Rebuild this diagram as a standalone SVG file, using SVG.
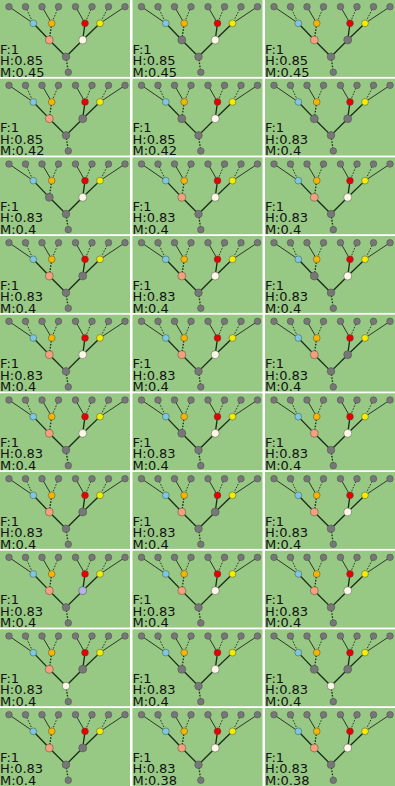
<svg xmlns="http://www.w3.org/2000/svg" xmlns:xlink="http://www.w3.org/1999/xlink" width="395" height="786" viewBox="0 0 395 786">
<style>
.bg{fill:#97c984}
.n{stroke:#4a4a4a;stroke-width:0.5}
.g{fill:#777}
.s{fill:#f4a07c}
.w{fill:#fdf8e6}
.l{fill:#b4b4e8}
.c{fill:#7cc8e0}
.o{fill:#f5b400}
.r{fill:#e80000}
.y{fill:#f2ee00}
.e{stroke:#111;stroke-width:0.8;fill:none}
.d{stroke-dasharray:1.6 1.4}
.t{stroke:#1a2a18;stroke-width:1.3}
text{font-family:"DejaVu Sans",sans-serif;font-size:13px;fill:#111}
</style>
<defs>
<g id="tree">
 <g id="connectors">
  <line class="e" x1="9" y1="6.7" x2="33.3" y2="23.3"/>
  <line class="e d" x1="25.5" y1="6.7" x2="33.3" y2="23.3"/>
  <line class="e" x1="42" y1="6.7" x2="51.7" y2="23.3"/>
  <line class="e d" x1="58.5" y1="6.7" x2="51.7" y2="23.3"/>
  <line class="e" x1="75.5" y1="6.7" x2="85" y2="23.3"/>
  <line class="e d" x1="92" y1="6.7" x2="85" y2="23.3"/>
  <line class="e d" x1="108.5" y1="6.7" x2="100" y2="23.3"/>
  <line class="e" x1="125" y1="6.7" x2="100" y2="23.3"/>
  <line class="e t" x1="33.3" y1="23.3" x2="49.3" y2="40"/>
  <line class="e t d" x1="51.7" y1="23.3" x2="49.3" y2="40"/>
  <line class="e t" x1="85" y1="23.3" x2="82.7" y2="40"/>
  <line class="e t" x1="100" y1="23.3" x2="82.7" y2="40"/>
  <line class="e t" x1="49.3" y1="40" x2="66" y2="56.7"/>
  <line class="e t" x1="82.7" y1="40" x2="66" y2="56.7"/>
  <line class="e t d" x1="66" y1="56.7" x2="68.3" y2="72.3"/>
 </g>
 <g id="leaves">
  <circle class="n g" cx="9" cy="6.7" r="3.3"/>
  <circle class="n g" cx="25.5" cy="6.7" r="3.3"/>
  <circle class="n g" cx="42" cy="6.7" r="3.3"/>
  <circle class="n g" cx="58.5" cy="6.7" r="3.3"/>
  <circle class="n g" cx="75.5" cy="6.7" r="3.3"/>
  <circle class="n g" cx="92" cy="6.7" r="3.3"/>
  <circle class="n g" cx="108.5" cy="6.7" r="3.3"/>
  <circle class="n g" cx="125" cy="6.7" r="3.3"/>
 </g>
 <g id="mid">
  <circle class="n c" cx="33.3" cy="23.3" r="3.4"/>
  <circle class="n o" cx="51.7" cy="23.3" r="3.4"/>
  <circle class="n r" cx="85" cy="23.3" r="3.4"/>
  <circle class="n y" cx="100" cy="23.3" r="3.4"/>
 </g>
 <g id="bottom"><circle class="n g" cx="68.3" cy="72.3" r="3.3"/></g>
</g>
<g id="lab85"><text x="0" y="53.5">F:1</text><text x="0" y="65">H:0.85</text></g>
<g id="lab83"><text x="0" y="53.5">F:1</text><text x="0" y="65">H:0.83</text></g>
</defs>

<g id="p0_0" transform="translate(0,0)"><rect class="bg" width="130" height="76.9"/><use xlink:href="#tree"/>
<g id="p0_0_a"><circle class="n s" cx="49.3" cy="40" r="4"/></g><g id="p0_0_b"><circle class="n w" cx="82.7" cy="40" r="4"/></g><g id="p0_0_c"><circle class="n g" cx="66" cy="56.7" r="3.8"/></g>
<use xlink:href="#lab85"/><text x="0" y="76.5">M:0.45</text></g>
<g id="p0_1" transform="translate(132.5,0)"><rect class="bg" width="130" height="76.9"/><use xlink:href="#tree"/>
<g id="p0_1_a"><circle class="n g" cx="49.3" cy="40" r="4"/></g><g id="p0_1_b"><circle class="n w" cx="82.7" cy="40" r="4"/></g><g id="p0_1_c"><circle class="n g" cx="66" cy="56.7" r="3.8"/></g>
<use xlink:href="#lab85"/><text x="0" y="76.5">M:0.45</text></g>
<g id="p0_2" transform="translate(265,0)"><rect class="bg" width="130" height="76.9"/><use xlink:href="#tree"/>
<g id="p0_2_a"><circle class="n s" cx="49.3" cy="40" r="4"/></g><g id="p0_2_b"><circle class="n g" cx="82.7" cy="40" r="4"/></g><g id="p0_2_c"><circle class="n g" cx="66" cy="56.7" r="3.8"/></g>
<use xlink:href="#lab85"/><text x="0" y="76.5">M:0.45</text></g>

<g id="p1_0" transform="translate(0,78.67)"><rect class="bg" width="130" height="76.9"/><use xlink:href="#tree"/>
<g id="p1_0_a"><circle class="n s" cx="49.3" cy="40" r="4"/></g><g id="p1_0_b"><circle class="n g" cx="82.7" cy="40" r="4"/></g><g id="p1_0_c"><circle class="n g" cx="66" cy="56.7" r="3.8"/></g>
<use xlink:href="#lab85"/><text x="0" y="76.5">M:0.42</text></g>
<g id="p1_1" transform="translate(132.5,78.67)"><rect class="bg" width="130" height="76.9"/><use xlink:href="#tree"/>
<g id="p1_1_a"><circle class="n g" cx="49.3" cy="40" r="4"/></g><g id="p1_1_b"><circle class="n w" cx="82.7" cy="40" r="4"/></g><g id="p1_1_c"><circle class="n g" cx="66" cy="56.7" r="3.8"/></g>
<use xlink:href="#lab85"/><text x="0" y="76.5">M:0.42</text></g>
<g id="p1_2" transform="translate(265,78.67)"><rect class="bg" width="130" height="76.9"/><use xlink:href="#tree"/>
<g id="p1_2_a"><circle class="n g" cx="49.3" cy="40" r="4"/></g><g id="p1_2_b"><circle class="n g" cx="82.7" cy="40" r="4"/></g><g id="p1_2_c"><circle class="n g" cx="66" cy="56.7" r="3.8"/></g>
<use xlink:href="#lab83"/><text x="0" y="76.5">M:0.4</text></g>

<g id="p2_0" transform="translate(0,157.33)"><rect class="bg" width="130" height="76.9"/><use xlink:href="#tree"/>
<g id="p2_0_a"><circle class="n g" cx="49.3" cy="40" r="4"/></g><g id="p2_0_b"><circle class="n w" cx="82.7" cy="40" r="4"/></g><g id="p2_0_c"><circle class="n g" cx="66" cy="56.7" r="3.8"/></g>
<use xlink:href="#lab83"/><text x="0" y="76.5">M:0.4</text></g>
<g id="p2_1" transform="translate(132.5,157.33)"><rect class="bg" width="130" height="76.9"/><use xlink:href="#tree"/>
<g id="p2_1_a"><circle class="n s" cx="49.3" cy="40" r="4"/></g><g id="p2_1_b"><circle class="n w" cx="82.7" cy="40" r="4"/></g><g id="p2_1_c"><circle class="n g" cx="66" cy="56.7" r="3.8"/></g>
<use xlink:href="#lab83"/><text x="0" y="76.5">M:0.4</text></g>
<g id="p2_2" transform="translate(265,157.33)"><rect class="bg" width="130" height="76.9"/><use xlink:href="#tree"/>
<g id="p2_2_a"><circle class="n s" cx="49.3" cy="40" r="4"/></g><g id="p2_2_b"><circle class="n w" cx="82.7" cy="40" r="4"/></g><g id="p2_2_c"><circle class="n g" cx="66" cy="56.7" r="3.8"/></g>
<use xlink:href="#lab83"/><text x="0" y="76.5">M:0.4</text></g>

<g id="p3_0" transform="translate(0,236)"><rect class="bg" width="130" height="76.9"/><use xlink:href="#tree"/>
<g id="p3_0_a"><circle class="n s" cx="49.3" cy="40" r="4"/></g><g id="p3_0_b"><circle class="n g" cx="82.7" cy="40" r="4"/></g><g id="p3_0_c"><circle class="n g" cx="66" cy="56.7" r="3.8"/></g>
<use xlink:href="#lab83"/><text x="0" y="76.5">M:0.4</text></g>
<g id="p3_1" transform="translate(132.5,236)"><rect class="bg" width="130" height="76.9"/><use xlink:href="#tree"/>
<g id="p3_1_a"><circle class="n s" cx="49.3" cy="40" r="4"/></g><g id="p3_1_b"><circle class="n w" cx="82.7" cy="40" r="4"/></g><g id="p3_1_c"><circle class="n g" cx="66" cy="56.7" r="3.8"/></g>
<use xlink:href="#lab83"/><text x="0" y="76.5">M:0.4</text></g>
<g id="p3_2" transform="translate(265,236)"><rect class="bg" width="130" height="76.9"/><use xlink:href="#tree"/>
<g id="p3_2_a"><circle class="n g" cx="49.3" cy="40" r="4"/></g><g id="p3_2_b"><circle class="n w" cx="82.7" cy="40" r="4"/></g><g id="p3_2_c"><circle class="n g" cx="66" cy="56.7" r="3.8"/></g>
<use xlink:href="#lab83"/><text x="0" y="76.5">M:0.4</text></g>

<g id="p4_0" transform="translate(0,314.67)"><rect class="bg" width="130" height="76.9"/><use xlink:href="#tree"/>
<g id="p4_0_a"><circle class="n s" cx="49.3" cy="40" r="4"/></g><g id="p4_0_b"><circle class="n w" cx="82.7" cy="40" r="4"/></g><g id="p4_0_c"><circle class="n g" cx="66" cy="56.7" r="3.8"/></g>
<use xlink:href="#lab83"/><text x="0" y="76.5">M:0.4</text></g>
<g id="p4_1" transform="translate(132.5,314.67)"><rect class="bg" width="130" height="76.9"/><use xlink:href="#tree"/>
<g id="p4_1_a"><circle class="n s" cx="49.3" cy="40" r="4"/></g><g id="p4_1_b"><circle class="n w" cx="82.7" cy="40" r="4"/></g><g id="p4_1_c"><circle class="n g" cx="66" cy="56.7" r="3.8"/></g>
<use xlink:href="#lab83"/><text x="0" y="76.5">M:0.4</text></g>
<g id="p4_2" transform="translate(265,314.67)"><rect class="bg" width="130" height="76.9"/><use xlink:href="#tree"/>
<g id="p4_2_a"><circle class="n s" cx="49.3" cy="40" r="4"/></g><g id="p4_2_b"><circle class="n g" cx="82.7" cy="40" r="4"/></g><g id="p4_2_c"><circle class="n g" cx="66" cy="56.7" r="3.8"/></g>
<use xlink:href="#lab83"/><text x="0" y="76.5">M:0.4</text></g>

<g id="p5_0" transform="translate(0,393.33)"><rect class="bg" width="130" height="76.9"/><use xlink:href="#tree"/>
<g id="p5_0_a"><circle class="n s" cx="49.3" cy="40" r="4"/></g><g id="p5_0_b"><circle class="n w" cx="82.7" cy="40" r="4"/></g><g id="p5_0_c"><circle class="n g" cx="66" cy="56.7" r="3.8"/></g>
<use xlink:href="#lab83"/><text x="0" y="76.5">M:0.4</text></g>
<g id="p5_1" transform="translate(132.5,393.33)"><rect class="bg" width="130" height="76.9"/><use xlink:href="#tree"/>
<g id="p5_1_a"><circle class="n g" cx="49.3" cy="40" r="4"/></g><g id="p5_1_b"><circle class="n w" cx="82.7" cy="40" r="4"/></g><g id="p5_1_c"><circle class="n g" cx="66" cy="56.7" r="3.8"/></g>
<use xlink:href="#lab83"/><text x="0" y="76.5">M:0.4</text></g>
<g id="p5_2" transform="translate(265,393.33)"><rect class="bg" width="130" height="76.9"/><use xlink:href="#tree"/>
<g id="p5_2_a"><circle class="n s" cx="49.3" cy="40" r="4"/></g><g id="p5_2_b"><circle class="n w" cx="82.7" cy="40" r="4"/></g><g id="p5_2_c"><circle class="n g" cx="66" cy="56.7" r="3.8"/></g>
<use xlink:href="#lab83"/><text x="0" y="76.5">M:0.4</text></g>

<g id="p6_0" transform="translate(0,472)"><rect class="bg" width="130" height="76.9"/><use xlink:href="#tree"/>
<g id="p6_0_a"><circle class="n s" cx="49.3" cy="40" r="4"/></g><g id="p6_0_b"><circle class="n g" cx="82.7" cy="40" r="4"/></g><g id="p6_0_c"><circle class="n g" cx="66" cy="56.7" r="3.8"/></g>
<use xlink:href="#lab83"/><text x="0" y="76.5">M:0.4</text></g>
<g id="p6_1" transform="translate(132.5,472)"><rect class="bg" width="130" height="76.9"/><use xlink:href="#tree"/>
<g id="p6_1_a"><circle class="n s" cx="49.3" cy="40" r="4"/></g><g id="p6_1_b"><circle class="n g" cx="82.7" cy="40" r="4"/></g><g id="p6_1_c"><circle class="n g" cx="66" cy="56.7" r="3.8"/></g>
<use xlink:href="#lab83"/><text x="0" y="76.5">M:0.4</text></g>
<g id="p6_2" transform="translate(265,472)"><rect class="bg" width="130" height="76.9"/><use xlink:href="#tree"/>
<g id="p6_2_a"><circle class="n s" cx="49.3" cy="40" r="4"/></g><g id="p6_2_b"><circle class="n w" cx="82.7" cy="40" r="4"/></g><g id="p6_2_c"><circle class="n g" cx="66" cy="56.7" r="3.8"/></g>
<use xlink:href="#lab83"/><text x="0" y="76.5">M:0.4</text></g>

<g id="p7_0" transform="translate(0,550.67)"><rect class="bg" width="130" height="76.9"/><use xlink:href="#tree"/>
<g id="p7_0_a"><circle class="n s" cx="49.3" cy="40" r="4"/></g><g id="p7_0_b"><circle class="n l" cx="82.7" cy="40" r="4"/></g><g id="p7_0_c"><circle class="n g" cx="66" cy="56.7" r="3.8"/></g>
<use xlink:href="#lab83"/><text x="0" y="76.5">M:0.4</text></g>
<g id="p7_1" transform="translate(132.5,550.67)"><rect class="bg" width="130" height="76.9"/><use xlink:href="#tree"/>
<g id="p7_1_a"><circle class="n s" cx="49.3" cy="40" r="4"/></g><g id="p7_1_b"><circle class="n w" cx="82.7" cy="40" r="4"/></g><g id="p7_1_c"><circle class="n g" cx="66" cy="56.7" r="3.8"/></g>
<use xlink:href="#lab83"/><text x="0" y="76.5">M:0.4</text></g>
<g id="p7_2" transform="translate(265,550.67)"><rect class="bg" width="130" height="76.9"/><use xlink:href="#tree"/>
<g id="p7_2_a"><circle class="n s" cx="49.3" cy="40" r="4"/></g><g id="p7_2_b"><circle class="n w" cx="82.7" cy="40" r="4"/></g><g id="p7_2_c"><circle class="n g" cx="66" cy="56.7" r="3.8"/></g>
<use xlink:href="#lab83"/><text x="0" y="76.5">M:0.4</text></g>

<g id="p8_0" transform="translate(0,629.33)"><rect class="bg" width="130" height="76.9"/><use xlink:href="#tree"/>
<g id="p8_0_a"><circle class="n s" cx="49.3" cy="40" r="4"/></g><g id="p8_0_b"><circle class="n g" cx="82.7" cy="40" r="4"/></g><g id="p8_0_c"><circle class="n w" cx="66" cy="56.7" r="3.8"/></g>
<use xlink:href="#lab83"/><text x="0" y="76.5">M:0.4</text></g>
<g id="p8_1" transform="translate(132.5,629.33)"><rect class="bg" width="130" height="76.9"/><use xlink:href="#tree"/>
<g id="p8_1_a"><circle class="n g" cx="49.3" cy="40" r="4"/></g><g id="p8_1_b"><circle class="n w" cx="82.7" cy="40" r="4"/></g><g id="p8_1_c"><circle class="n g" cx="66" cy="56.7" r="3.8"/></g>
<use xlink:href="#lab83"/><text x="0" y="76.5">M:0.4</text></g>
<g id="p8_2" transform="translate(265,629.33)"><rect class="bg" width="130" height="76.9"/><use xlink:href="#tree"/>
<g id="p8_2_a"><circle class="n g" cx="49.3" cy="40" r="4"/></g><g id="p8_2_b"><circle class="n g" cx="82.7" cy="40" r="4"/></g><g id="p8_2_c"><circle class="n w" cx="66" cy="56.7" r="3.8"/></g>
<use xlink:href="#lab83"/><text x="0" y="76.5">M:0.4</text></g>

<g id="p9_0" transform="translate(0,708)"><rect class="bg" width="130" height="78"/><use xlink:href="#tree"/>
<g id="p9_0_a"><circle class="n s" cx="49.3" cy="40" r="4"/></g><g id="p9_0_b"><circle class="n g" cx="82.7" cy="40" r="4"/></g><g id="p9_0_c"><circle class="n g" cx="66" cy="56.7" r="3.8"/></g>
<use xlink:href="#lab83"/><text x="0" y="76.5">M:0.4</text></g>
<g id="p9_1" transform="translate(132.5,708)"><rect class="bg" width="130" height="78"/><use xlink:href="#tree"/>
<g id="p9_1_a"><circle class="n s" cx="49.3" cy="40" r="4"/></g><g id="p9_1_b"><circle class="n w" cx="82.7" cy="40" r="4"/></g><g id="p9_1_c"><circle class="n g" cx="66" cy="56.7" r="3.8"/></g>
<use xlink:href="#lab83"/><text x="0" y="76.5">M:0.38</text></g>
<g id="p9_2" transform="translate(265,708)"><rect class="bg" width="130" height="78"/><use xlink:href="#tree"/>
<g id="p9_2_a"><circle class="n s" cx="49.3" cy="40" r="4"/></g><g id="p9_2_b"><circle class="n w" cx="82.7" cy="40" r="4"/></g><g id="p9_2_c"><circle class="n g" cx="66" cy="56.7" r="3.8"/></g>
<use xlink:href="#lab83"/><text x="0" y="76.5">M:0.38</text></g>
</svg>
